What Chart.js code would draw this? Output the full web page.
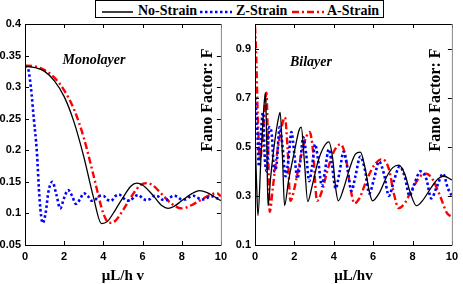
<!DOCTYPE html>
<html>
<head>
<meta charset="utf-8">
<script src="https://cdn.jsdelivr.net/npm/chart.js@4.4.1/dist/chart.umd.min.js"></script>
<style>
  body { margin: 0; background: #fff; width: 463px; height: 284px; position: relative; overflow: hidden; }
  canvas { position: absolute; top: 0; }
  #left { left: 0; }
  #right { left: 226px; }
  #legend { position: absolute; left: 95px; top: 0; width: 287px; height: 16px; border: 1px solid #000; background: #fff; z-index: 2; }
  #legend span { position: absolute; top: 3px; font: bold 14px "Liberation Serif"; line-height: 14px; color: #000; white-space: nowrap; }
  #legend svg { position: absolute; top: 8px; }
</style>
</head>
<body>
<canvas id="left" width="232" height="284"></canvas>
<canvas id="right" width="237" height="284"></canvas>
<div id="legend">
  <svg style="left:6px" width="31" height="6"><line x1="0" y1="3" x2="31" y2="3" stroke="#000" stroke-width="1.5"/></svg>
  <span style="left:42px">No-Strain</span>
  <svg style="left:104px" width="32" height="6"><line x1="0" y1="3" x2="32" y2="3" stroke="#00f" stroke-width="2.5" stroke-dasharray="2.5 2.5"/></svg>
  <span style="left:140px">Z-Strain</span>
  <svg style="left:196px" width="32" height="6"><line x1="0" y1="3" x2="32" y2="3" stroke="#f00" stroke-width="2.5" stroke-dasharray="7 3 2 3"/></svg>
  <span style="left:231px">A-Strain</span>
</div>
<script>
// ---- data ----
var xTicks = [0, 2, 4, 6, 8, 10];
var monoYTicks = [0.05, 0.1, 0.15, 0.2, 0.25, 0.3, 0.35, 0.4];
var biYTicks = [0.1, 0.3, 0.5, 0.7, 0.9];

// Monolayer
var monoNoStrain = [[0,0.333],[0.5,0.331],[1,0.325],[1.5,0.31],[2,0.285],[2.5,0.245],[3,0.19],[3.5,0.125],[3.9,0.084],[4.2,0.087],[4.6,0.105],[5,0.125],[5.4,0.143],[5.7,0.148],[6,0.145],[6.5,0.13],[7,0.112],[7.3,0.108],[7.6,0.111],[8,0.12],[8.5,0.131],[8.9,0.136],[9.3,0.133],[9.7,0.126],[10,0.12]];
var monoZStrain = [[0,0.333],[0.15,0.33],[0.3,0.3],[0.45,0.25],[0.6,0.2],[0.75,0.12],[0.9,0.085],[1.05,0.1],[1.2,0.135],[1.4,0.15],[1.6,0.13],[1.8,0.108],[2,0.125],[2.2,0.137],[2.4,0.128],[2.6,0.115],[2.8,0.122],[3,0.132],[3.2,0.128],[3.4,0.12],[3.6,0.122],[3.8,0.128],[4,0.128],[4.2,0.122],[4.4,0.12],[4.6,0.127],[4.8,0.13],[5,0.125],[5.2,0.12],[5.4,0.121],[5.6,0.127],[5.8,0.129],[6,0.124],[6.2,0.121],[6.4,0.123],[6.6,0.128],[6.8,0.127],[7,0.122],[7.2,0.121],[7.4,0.125],[7.6,0.128],[7.8,0.126],[8,0.122],[8.2,0.122],[8.4,0.126],[8.6,0.128],[8.8,0.125],[9,0.122],[9.2,0.123],[9.4,0.126],[9.6,0.127],[9.8,0.124],[10,0.122]];
var monoAStrain = [[0,0.334],[0.5,0.333],[1,0.327],[1.5,0.315],[2,0.295],[2.5,0.265],[3,0.22],[3.5,0.16],[4,0.1],[4.3,0.085],[4.6,0.088],[5,0.105],[5.5,0.13],[5.9,0.145],[6.2,0.148],[6.5,0.145],[7,0.13],[7.5,0.115],[8,0.108],[8.5,0.113],[9,0.122],[9.5,0.13],[9.8,0.132],[10,0.127]];

// Bilayer
var biNoStrain = [[0,0.55],[0.08,0.35],[0.15,0.22],[0.3,0.45],[0.45,0.66],[0.53,0.72],[0.6,0.5],[0.66,0.26],[0.8,0.38],[1,0.52],[1.2,0.62],[1.28,0.64],[1.4,0.45],[1.5,0.26],[1.7,0.36],[2,0.48],[2.25,0.57],[2.35,0.58],[2.5,0.45],[2.68,0.277],[2.9,0.34],[3.2,0.44],[3.5,0.5],[3.75,0.52],[3.95,0.45],[4.1,0.33],[4.23,0.28],[4.5,0.33],[4.8,0.41],[5.1,0.47],[5.35,0.478],[5.6,0.41],[5.8,0.32],[5.97,0.28],[6.3,0.31],[6.7,0.38],[7.0,0.415],[7.3,0.425],[7.6,0.39],[7.9,0.31],[8.2,0.26],[8.5,0.28],[9,0.34],[9.3,0.37],[9.6,0.38],[10,0.365]];
var biZStrain = [[0,0.7],[0.1,0.6],[0.2,0.42],[0.3,0.55],[0.4,0.64],[0.5,0.45],[0.6,0.4],[0.72,0.58],[0.85,0.55],[0.98,0.4],[1.1,0.43],[1.25,0.58],[1.4,0.5],[1.55,0.38],[1.7,0.45],[1.85,0.56],[2,0.47],[2.15,0.37],[2.3,0.44],[2.45,0.54],[2.6,0.47],[2.75,0.36],[2.9,0.42],[3.05,0.51],[3.2,0.45],[3.4,0.34],[3.55,0.4],[3.75,0.49],[3.9,0.43],[4.1,0.33],[4.3,0.4],[4.5,0.48],[4.7,0.41],[4.9,0.32],[5.1,0.38],[5.35,0.46],[5.6,0.4],[5.8,0.31],[6.05,0.37],[6.3,0.44],[6.55,0.39],[6.8,0.3],[7.05,0.36],[7.35,0.42],[7.6,0.38],[7.85,0.3],[8.1,0.35],[8.4,0.4],[8.7,0.37],[8.95,0.29],[9.25,0.34],[9.55,0.39],[9.8,0.33],[10,0.3]];
var biAStrain = [[0,0.99],[0.05,0.9],[0.15,0.6],[0.25,0.45],[0.4,0.55],[0.52,0.68],[0.58,0.72],[0.65,0.55],[0.75,0.235],[0.9,0.33],[1.1,0.46],[1.35,0.58],[1.52,0.62],[1.65,0.5],[1.8,0.28],[2,0.33],[2.3,0.45],[2.6,0.54],[2.78,0.56],[2.95,0.48],[3.15,0.28],[3.4,0.32],[3.7,0.41],[4,0.48],[4.35,0.51],[4.6,0.46],[4.85,0.33],[5.05,0.27],[5.3,0.29],[5.7,0.37],[6.1,0.43],[6.45,0.45],[6.8,0.41],[7.05,0.31],[7.3,0.25],[7.6,0.27],[8,0.33],[8.4,0.38],[8.7,0.39],[9,0.37],[9.4,0.3],[9.75,0.23],[10,0.215]];

function pts(arr) {
  return arr.map(function(p) { return {x: p[0], y: p[1]}; });
}

// frame, inward ticks and in-plot texts
var framePlugin = {
  id: 'frame',
  afterDraw: function(chart, args, opts) {
    var ctx = chart.ctx, a = chart.chartArea;
    var xs = chart.scales.x, ys = chart.scales.y;
    ctx.save();
    ctx.lineWidth = 1;
    ctx.strokeStyle = '#000';
    ctx.beginPath();
    ctx.moveTo(a.left + 0.5, a.top + 0.5);
    ctx.lineTo(a.right, a.top + 0.5);
    ctx.moveTo(a.left + 0.5, a.top);
    ctx.lineTo(a.left + 0.5, a.bottom + 0.5);
    ctx.lineTo(a.right + 0.5, a.bottom + 0.5);
    xs.ticks.forEach(function(t) {
      var px = Math.round(xs.getPixelForValue(t.value)) + 0.5;
      ctx.moveTo(px, a.bottom); ctx.lineTo(px, a.bottom - 4);
      ctx.moveTo(px, a.top); ctx.lineTo(px, a.top + 4);
    });
    ys.ticks.forEach(function(t) {
      var py = Math.round(ys.getPixelForValue(t.value)) + 0.5;
      ctx.moveTo(a.left, py); ctx.lineTo(a.left + 4, py);
      ctx.moveTo(a.right, py); ctx.lineTo(a.right - 4, py);
    });
    ctx.stroke();
    ctx.strokeStyle = opts.rightColor;
    ctx.beginPath();
    ctx.moveTo(a.right + 0.5, a.top);
    ctx.lineTo(a.right + 0.5, a.bottom);
    ctx.stroke();

    ctx.fillStyle = '#000';
    ctx.textAlign = 'center';
    ctx.textBaseline = 'middle';
    ctx.font = 'italic bold 14px "Liberation Serif"';
    ctx.fillText(opts.title, opts.titleX, opts.titleY);

    ctx.translate(opts.fanoX, opts.fanoY);
    ctx.rotate(-Math.PI / 2);
    ctx.font = 'bold 16px "Liberation Serif"';
    ctx.fillText('Fano Factor: F', 0, 0);
    ctx.restore();
  }
};

function makeChart(id, series, yTicks, yMin, yMax, yWidth, padRight, xTitle, frameOpts) {
  var styles = [
    {borderColor: '#000', borderWidth: 1.3, borderDash: []},
    {borderColor: '#0000ff', borderWidth: 2.6, borderDash: [2.5, 2.5]},
    {borderColor: '#ff0000', borderWidth: 2.4, borderDash: [7, 3, 2, 3]}
  ];
  var names = ['No-Strain', 'Z-Strain', 'A-Strain'];
  return new Chart(document.getElementById(id), {
    type: 'line',
    data: {
      datasets: series.map(function(s, i) {
        return {
          label: names[i],
          data: pts(s),
          borderColor: styles[i].borderColor,
          borderWidth: styles[i].borderWidth,
          borderDash: styles[i].borderDash,
          pointRadius: 0,
          cubicInterpolationMode: 'monotone',
          fill: false
        };
      })
    },
    options: {
      responsive: false,
      animation: false,
      events: [],
      layout: {padding: {top: 24, right: padRight, left: 0, bottom: 0}},
      plugins: {legend: {display: false}, tooltip: {enabled: false}, frame: frameOpts},
      scales: {
        x: {
          type: 'linear', min: 0, max: 10,
          afterBuildTicks: function(s) { s.ticks = xTicks.map(function(v) { return {value: v}; }); },
          afterFit: function(s) { s.height = 39; },
          grid: {display: false, drawTicks: false},
          border: {display: false},
          ticks: {color: '#000', font: {family: '"Liberation Sans"', weight: 'bold', size: 11}, padding: 5, maxRotation: 0},
          title: {display: true, text: xTitle, color: '#000', font: {family: '"Liberation Serif"', weight: 'bold', size: 15, lineHeight: 1}, padding: 0}
        },
        y: {
          type: 'linear', min: yMin, max: yMax,
          afterBuildTicks: function(s) { s.ticks = yTicks.map(function(v) { return {value: v}; }); },
          afterFit: function(s) { s.width = yWidth; },
          grid: {display: false, drawTicks: false},
          border: {display: false},
          ticks: {color: '#000', font: {family: '"Liberation Sans"', weight: 'bold', size: 11}, padding: 4,
                  callback: function(v) { return String(Number(v.toFixed(2))); }}
        }
      }
    },
    plugins: [framePlugin]
  });
}

makeChart('left', [monoNoStrain, monoZStrain, monoAStrain], monoYTicks, 0.05, 0.4, 25, 6, '\u03bcL/h v',
  {rightColor: '#888', title: 'Monolayer', titleX: 94, titleY: 60, fanoX: 208, fanoY: 100});
makeChart('right', [biNoStrain, biZStrain, biAStrain], biYTicks, 0.1, 1.0, 29, 7, '\u03bcL/hv',
  {rightColor: '#888', title: 'Bilayer', titleX: 85, titleY: 62, fanoX: 210, fanoY: 100});
</script>
</body>
</html>
